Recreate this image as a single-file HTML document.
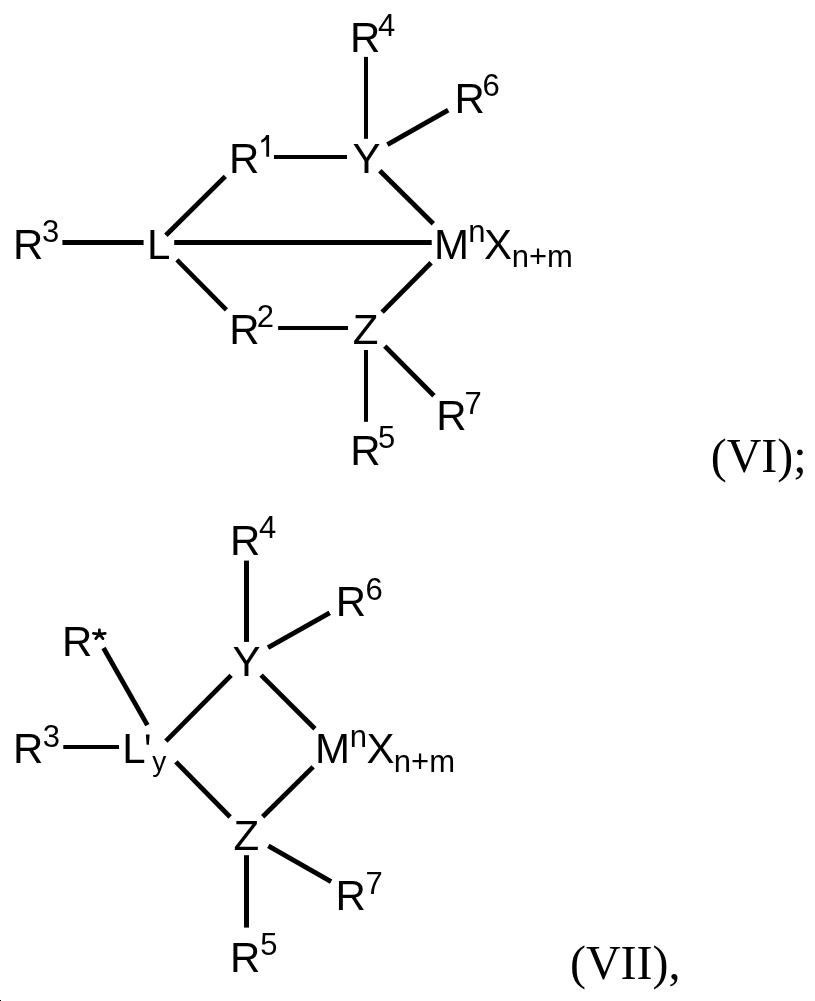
<!DOCTYPE html>
<html><head><meta charset="utf-8"><style>
html,body{margin:0;padding:0;background:#fff;width:815px;height:1001px;overflow:hidden}
svg{display:block;will-change:transform}
</style></head><body>
<svg width="815" height="1001" viewBox="0 0 815 1001">
<g stroke="#000" stroke-linecap="butt" fill="none">
<line x1="366.00" y1="56.90" x2="366.00" y2="138.80" stroke-width="4.00"/>
<line x1="387.40" y1="144.60" x2="448.20" y2="110.20" stroke-width="4.80"/>
<line x1="274.00" y1="157.00" x2="347.00" y2="157.00" stroke-width="4.00"/>
<line x1="379.80" y1="170.80" x2="433.30" y2="223.80" stroke-width="4.80"/>
<line x1="62.40" y1="242.50" x2="143.60" y2="242.50" stroke-width="5.00"/>
<line x1="174.20" y1="242.50" x2="431.70" y2="242.50" stroke-width="5.00"/>
<line x1="165.90" y1="235.30" x2="225.30" y2="176.40" stroke-width="4.80"/>
<line x1="176.90" y1="259.80" x2="226.40" y2="309.90" stroke-width="4.50"/>
<line x1="278.10" y1="328.00" x2="348.00" y2="328.00" stroke-width="4.00"/>
<line x1="382.10" y1="312.10" x2="431.10" y2="262.70" stroke-width="4.80"/>
<line x1="366.00" y1="350.00" x2="366.00" y2="421.80" stroke-width="4.00"/>
<line x1="384.80" y1="346.10" x2="433.90" y2="395.70" stroke-width="4.80"/>
<line x1="246.50" y1="560.60" x2="246.50" y2="641.90" stroke-width="5.00"/>
<line x1="268.00" y1="647.60" x2="329.70" y2="612.80" stroke-width="4.80"/>
<line x1="103.50" y1="648.00" x2="147.40" y2="725.10" stroke-width="4.80"/>
<line x1="165.90" y1="741.10" x2="231.10" y2="675.40" stroke-width="4.80"/>
<line x1="261.10" y1="675.10" x2="314.90" y2="728.80" stroke-width="4.80"/>
<line x1="63.30" y1="747.00" x2="119.00" y2="747.00" stroke-width="4.00"/>
<line x1="313.10" y1="766.90" x2="262.70" y2="816.70" stroke-width="4.80"/>
<line x1="175.90" y1="761.90" x2="230.10" y2="817.00" stroke-width="4.80"/>
<line x1="246.50" y1="855.20" x2="246.50" y2="927.60" stroke-width="5.00"/>
<line x1="268.30" y1="845.80" x2="331.10" y2="881.60" stroke-width="4.80"/>
</g>
<g font-family="&quot;Liberation Sans&quot;, sans-serif" fill="#000">
<text x="350.00" y="52.00" font-size="42">R</text>
<text x="378.00" y="36.00" font-size="31">4</text>
<text x="454.60" y="112.60" font-size="42">R</text>
<text x="482.60" y="96.00" font-size="31">6</text>
<text x="229.00" y="173.00" font-size="42">R</text>
<text x="352.40" y="173.00" font-size="42">Y</text>
<text x="13.00" y="258.60" font-size="42">R</text>
<text x="42.00" y="242.00" font-size="31">3</text>
<text x="147.00" y="258.60" font-size="42">L</text>
<text x="434.00" y="259.00" font-size="42">M</text>
<text x="468.30" y="242.00" font-size="31">n</text>
<text x="484.00" y="259.00" font-size="42">X</text>
<text x="511.70" y="267.00" font-size="31">n+m</text>
<text x="229.20" y="343.70" font-size="42">R</text>
<text x="256.70" y="327.30" font-size="31">2</text>
<text x="352.70" y="343.50" font-size="42">Z</text>
<text x="436.20" y="430.00" font-size="42">R</text>
<text x="464.60" y="413.70" font-size="31">7</text>
<text x="350.30" y="464.70" font-size="42">R</text>
<text x="378.00" y="448.30" font-size="31">5</text>
<text x="230.10" y="554.70" font-size="42">R</text>
<text x="259.00" y="538.20" font-size="31">4</text>
<text x="335.70" y="615.50" font-size="42">R</text>
<text x="365.60" y="599.60" font-size="31">6</text>
<text x="62.00" y="656.40" font-size="42">R</text>
<text x="232.60" y="676.40" font-size="42">Y</text>
<text x="13.00" y="762.50" font-size="42">R</text>
<text x="42.70" y="746.70" font-size="31">3</text>
<text x="122.20" y="762.50" font-size="42">L</text>
<text x="152.20" y="771.40" font-size="28">y</text>
<text x="314.90" y="762.50" font-size="42">M</text>
<text x="349.70" y="746.50" font-size="31">n</text>
<text x="366.50" y="762.50" font-size="42">X</text>
<text x="393.80" y="772.00" font-size="31">n+m</text>
<text x="233.40" y="850.00" font-size="42">Z</text>
<text x="335.40" y="910.20" font-size="42">R</text>
<text x="365.60" y="894.00" font-size="31">7</text>
<text x="230.10" y="972.00" font-size="42">R</text>
<text x="260.30" y="955.20" font-size="31">5</text>
<path d="M266.3,135.1 L269.1,135.1 L269.1,156.8 L266.3,156.8 L266.3,139.6 C265,141 263.4,142.2 261.2,142.8 L261.2,140.2 C263.2,139.4 265.2,137.6 266.3,135.1 Z"/>
<path d="M145.9,734.4 L149.6,734.4 L148.9,744.7 L146.6,744.7 Z"/>
<path d="M99.40,634.20 L99.40,629.80 M99.40,634.20 L93.40,633.40 M99.40,634.20 L105.20,633.40 M99.40,634.20 L95.80,638.60 M99.40,634.20 L103.00,638.60" stroke="#000" stroke-width="2.8" stroke-linecap="round" fill="none"/>
</g>
<g font-family="&quot;Liberation Serif&quot;, serif" font-size="48" fill="#000">
<text x="710.7" y="472">(VI);</text>
<text x="569.9" y="978.6">(VII),</text>
</g>
<rect x="0" y="1000" width="1" height="1" fill="#000"/>
</svg>
</body></html>
